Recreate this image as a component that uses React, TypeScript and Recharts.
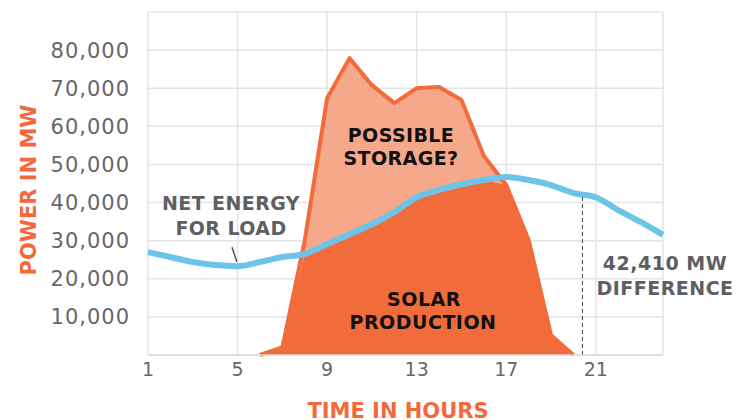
import React from 'react'
import {
  ComposedChart,
  Area,
  Line,
  XAxis,
  YAxis,
  CartesianGrid,
  ReferenceLine,
} from 'recharts'

// hour of day
const hours = [1, 2, 3, 4, 5, 6, 7, 8, 9, 10, 11, 12, 13, 14, 15, 16, 17, 18, 19, 20, 21, 22, 23, 24]

// net energy for load (MW)
const netLoad = [
  27000, 25700, 24400, 23600, 23300, 24400, 25700, 26500, 29100, 31700, 34300, 37500,
  41400, 43300, 44800, 45900, 46700, 45900, 44600, 42500, 41400, 38000, 34900, 31500,
]

// solar production (MW), null when there is none
const solar = [
  null, null, null, null, null, 0, 2000, 30000, 67400, 77900, 70800, 66100,
  70000, 70300, 66900, 52200, 44600, 30200, 5200, 0, null, null, null, null,
]

const xTicks = [1, 5, 9, 13, 17, 21]
const yTicks = [0, 10000, 20000, 30000, 40000, 50000, 60000, 70000, 80000, 90000]

// the "42,410 MW difference" marker
const diffHour = 20.4
const diffTop = 41800

// leader line under "NET ENERGY FOR LOAD"
const leader = [
  { x: 4.75, y: 28300 },
  { x: 4.97, y: 24400 },
]

const FONT = '"DejaVu Sans", sans-serif'
const GRAY = '#5E5F63'
const ORANGE = '#F26B3A'
const SALMON = '#F5A98A'
const BLUE = '#6CC4E9'
const TITLE = '#F4683A'

const data = hours.map((hour, i) => ({
  hour,
  net: netLoad[i],
  solar: solar[i],
  covered: solar[i] == null ? null : Math.min(solar[i] as number, netLoad[i]),
}))

export default function App() {
  return (
    <div style={{ position: 'absolute', left: 0, top: 0, width: 738, height: 420, background: '#fff' }}>
      <ComposedChart
        width={738}
        height={420}
        data={data}
        margin={{ top: 12, right: 75, bottom: 0, left: 0 }}
      >
        <CartesianGrid stroke="#E4E4E7" strokeWidth={1.5} />
        <XAxis
          dataKey="hour"
          type="number"
          domain={[1, 24]}
          ticks={xTicks}
          height={65}
          tickLine={false}
          axisLine={{ stroke: '#DADADD', strokeWidth: 1.5 }}
          tick={{ fill: '#66676B', fontSize: 19, fontFamily: FONT }}
        />
        <YAxis
          type="number"
          domain={[0, 90000]}
          ticks={yTicks}
          width={148}
          tickLine={false}
          axisLine={false}
          tickSize={0}
          tickMargin={18}
          tick={{ fill: '#66676B', fontSize: 21, fontFamily: FONT, letterSpacing: 1 }}
          tickFormatter={(v: number) => (v === 0 || v === 90000 ? '' : v.toLocaleString('en-US'))}
        />
        <Area
          type="linear"
          dataKey="solar"
          fill={SALMON}
          fillOpacity={1}
          stroke={ORANGE}
          strokeWidth={4}
          strokeLinejoin="round"
          dot={false}
          activeDot={false}
          isAnimationActive={false}
        />
        <Area
          type="linear"
          dataKey="covered"
          fill={ORANGE}
          fillOpacity={1}
          stroke="none"
          dot={false}
          activeDot={false}
          isAnimationActive={false}
        />
        <Line
          type="monotone"
          dataKey="net"
          stroke={BLUE}
          strokeWidth={6}
          dot={false}
          activeDot={false}
          isAnimationActive={false}
        />
        <ReferenceLine
          segment={[
            { x: diffHour, y: 0 },
            { x: diffHour, y: diffTop },
          ]}
          stroke="#444"
          strokeDasharray="4 3"
          strokeWidth={1}
        />
        <ReferenceLine segment={leader} stroke="#555" strokeWidth={1.5} />
      </ComposedChart>
      <svg
        width={738}
        height={420}
        style={{ position: 'absolute', left: 0, top: 0, pointerEvents: 'none' }}
        fontFamily={FONT}
        fontWeight="bold"
        textAnchor="middle"
      >
        <text x={401} y={142} fontSize={19} letterSpacing={0.4} fill="#111">POSSIBLE</text>
        <text x={401} y={165} fontSize={19} letterSpacing={0.4} fill="#111">STORAGE?</text>
        <text x={424} y={306} fontSize={19} letterSpacing={0.5} fill="#111">SOLAR</text>
        <text x={423} y={329} fontSize={19} letterSpacing={0.5} fill="#111">PRODUCTION</text>
        <text x={231} y={210} fontSize={19} letterSpacing={0.4} fill={GRAY}>NET ENERGY</text>
        <text x={231} y={235} fontSize={19} letterSpacing={0.4} fill={GRAY}>FOR LOAD</text>
        <text x={665} y={270} fontSize={19} letterSpacing={0.5} fill={GRAY}>42,410 MW</text>
        <text x={665} y={295} fontSize={19} letterSpacing={0.5} fill={GRAY}>DIFFERENCE</text>
        <text x={398} y={418} fontSize={21} fill={TITLE}>TIME IN HOURS</text>
        <text
          x={0}
          y={0}
          fontSize={21}
          fill={TITLE}
          transform="translate(36 190) rotate(-90)"
        >
          POWER IN MW
        </text>
      </svg>
    </div>
  )
}
